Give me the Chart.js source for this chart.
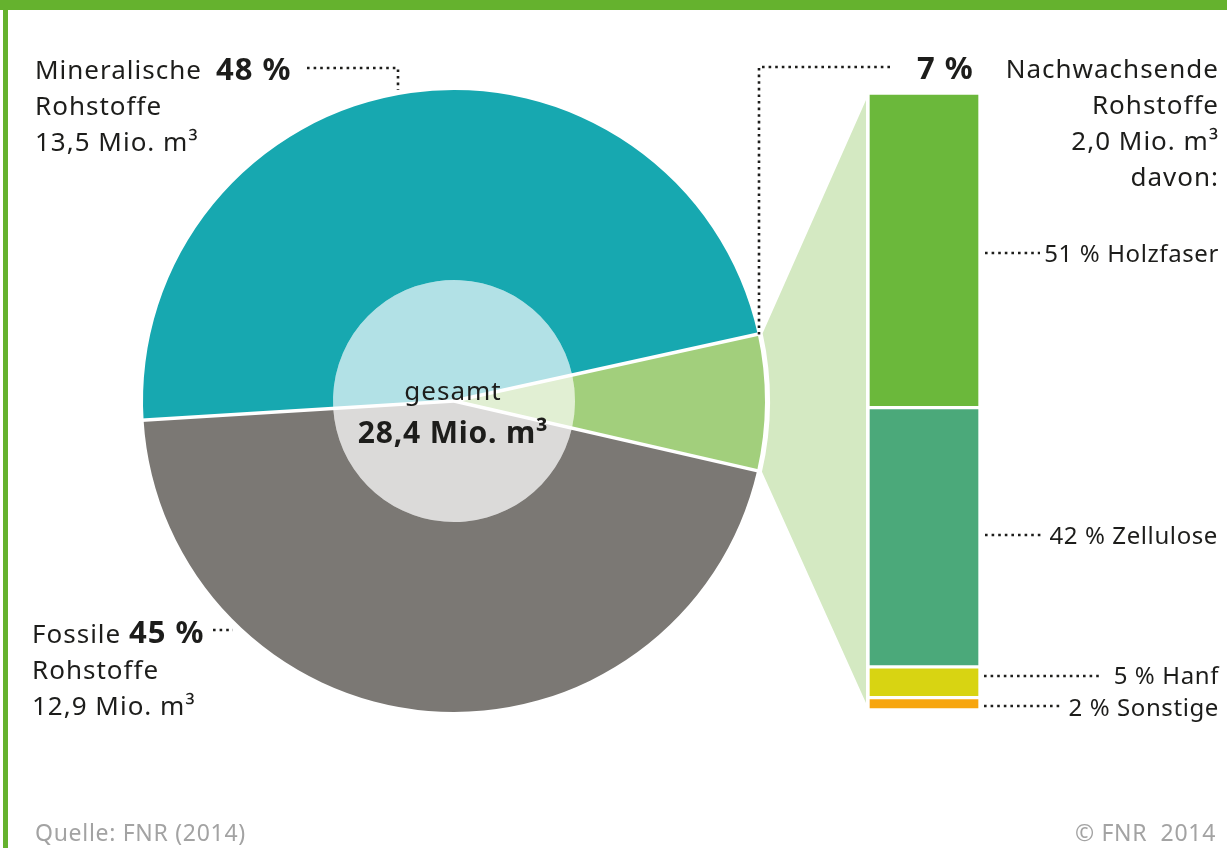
<!DOCTYPE html>
<html lang="de">
<head>
<meta charset="utf-8">
<script src="https://cdn.jsdelivr.net/npm/chart.js@4.4.1/dist/chart.umd.min.js"></script>
<style>
  body { margin: 0; width: 1227px; height: 848px; background: #fff; overflow: hidden;
         font-family: "Noto Sans", sans-serif; color: #1d1d1b; position: relative; }
  .topbar { position: absolute; left: 0; top: 0; width: 1227px; height: 10px; background: #65b22e; }
  .sidebar { position: absolute; left: 3px; top: 0; width: 5px; height: 848px; background: #65b22e; }
  canvas { position: absolute; }
  #pie { left: 0; top: 0; }
  #bar { left: 868px; top: 93px; }
  .lbl { position: absolute; font-size: 26px; letter-spacing: 1px; line-height: 36px; white-space: nowrap; }
  .lbl b { font-weight: 700; font-size: 31px; letter-spacing: 1px; }
  .r { text-align: right; }
  .small { font-size: 24px; letter-spacing: 0.6px; }
  .foot { position: absolute; top: 816px; font-size: 23px; letter-spacing: 0.7px; color: #a3a3a3; line-height: 32px; }
</style>
</head>
<body>
<div class="topbar"></div>
<div class="sidebar"></div>
<canvas id="pie" width="1227" height="848"></canvas>
<canvas id="bar" width="112" height="617"></canvas>

<div class="lbl" style="left:35px; top:51px;">Mineralische<br>Rohstoffe<br>13,5 Mio. m³</div>
<div class="lbl" style="left:216px; top:50px;"><b>48 %</b></div>

<div class="lbl" style="left:32px; top:613px;">Fossile <b>45 %</b><br>Rohstoffe<br>12,9 Mio. m³</div>

<div class="lbl" style="left:917px; top:49px;"><b>7 %</b></div>
<div class="lbl r" style="right:8px; top:50px;">Nachwachsende<br>Rohstoffe<br>2,0 Mio. m³<br>davon:</div>

<div class="lbl r small" style="right:8px; top:235px;">51 % Holzfaser</div>
<div class="lbl r small" style="right:9px; top:517px;">42 % Zellulose</div>
<div class="lbl r small" style="right:8px; top:657px;">5 % Hanf</div>
<div class="lbl r small" style="right:8px; top:689px;">2 % Sonstige</div>

<div class="lbl" style="left:0; width:906px; text-align:center; top:372px;">gesamt</div>
<div class="lbl" style="left:0; width:906px; text-align:center; top:414px;"><b style="font-size:30px; letter-spacing:0.8px;">28,4 Mio. m³</b></div>

<div class="foot" style="left:35px;">Quelle: FNR (2014)</div>
<div class="foot" style="right:11px;">© FNR&nbsp; 2014</div>

<script>
// Data
const pieLabels = ['Nachwachsende Rohstoffe', 'Fossile Rohstoffe', 'Mineralische Rohstoffe'];
const pieVolumes = [2.0, 12.9, 13.5];   // Mio. m³
const piePercents = [7, 45, 48];
const barLabels = ['Holzfaser', 'Zellulose', 'Hanf', 'Sonstige'];
const barShares = [51, 42, 5, 2];       // % of Nachwachsende Rohstoffe

// Colors
const outerColors = ['#a2cf7c', '#7b7874', '#17a8b0'];
const innerColors = ['#e1efd3', '#dbdad9', '#b2e1e6'];
const barColors = ['#6bb83b', '#4ba97a', '#d8d412', '#f7a60f'];

const BAR_LEFT = 868;
const BAR_TOP = 93;

// Stacked bar (created first so the pie can read its geometry)
const barChart = new Chart(document.querySelector('#bar'), {
    type: 'bar',
    data: {
        labels: [''],
        datasets: barLabels.map((label, i) => ({
            label: label,
            data: [barShares[i]],
            backgroundColor: barColors[i],
            borderColor: '#ffffff',
            borderWidth: 2,
            borderSkipped: false,
            barPercentage: 1,
            categoryPercentage: 1
        }))
    },
    options: {
        responsive: false,
        animation: false,
        layout: { padding: 0 },
        plugins: { legend: { display: false }, tooltip: { enabled: false } },
        scales: {
            x: { stacked: true, display: false },
            y: { stacked: true, display: false, reverse: true, min: 0, max: 100 }
        }
    }
});

function dotted(ctx, pts) {
    ctx.beginPath();
    ctx.moveTo(pts[0][0], pts[0][1]);
    for (let i = 1; i < pts.length; i++) ctx.lineTo(pts[i][0], pts[i][1]);
    ctx.stroke();
}

const pieExtras = {
    id: 'pieExtras',
    beforeDatasetsDraw(chart) {
        // light green funnel from the Nachwachsende slice to the bar
        const ctx = chart.ctx;
        const arc = chart.getDatasetMeta(0).data[0];
        const r = arc.outerRadius + 5;
        const yScale = barChart.scales.y;
        const el = barChart.getDatasetMeta(0).data[0];
        const right = BAR_LEFT + el.x - el.width / 2 - 2;
        const top = BAR_TOP + yScale.getPixelForValue(0) + 7;
        const bottom = BAR_TOP + yScale.getPixelForValue(100) - 7;
        ctx.save();
        ctx.fillStyle = '#d4e9c2';
        ctx.beginPath();
        ctx.arc(arc.x, arc.y, r, arc.startAngle, arc.endAngle);
        ctx.lineTo(right, bottom);
        ctx.lineTo(right, top);
        ctx.closePath();
        ctx.fill();
        ctx.restore();
    },
    afterDatasetsDraw(chart) {
        const ctx = chart.ctx;
        ctx.save();
        // white separators between slices
        ctx.strokeStyle = '#ffffff';
        ctx.lineWidth = 3.5;
        chart.getDatasetMeta(0).data.forEach(arc => {
            const a = arc.startAngle;
            ctx.beginPath();
            ctx.moveTo(arc.x, arc.y);
            ctx.lineTo(arc.x + (arc.outerRadius + 2) * Math.cos(a), arc.y + (arc.outerRadius + 2) * Math.sin(a));
            ctx.stroke();
        });
        // dotted leaders
        ctx.strokeStyle = '#1d1d1b';
        ctx.lineWidth = 2.6;
        ctx.setLineDash([2.6, 4]);
        dotted(ctx, [[307, 68], [398, 68], [398, 90]]);
        dotted(ctx, [[890, 67], [759, 67], [759, 336]]);
        dotted(ctx, [[213, 630], [233, 630]]);
        dotted(ctx, [[985, 253], [1040, 253]]);
        dotted(ctx, [[985, 535], [1043, 535]]);
        dotted(ctx, [[984, 676], [1100, 676]]);
        dotted(ctx, [[984, 706], [1062, 706]]);
        ctx.restore();
    }
};

// Pie with lighter inner circle
new Chart(document.querySelector('#pie'), {
    type: 'pie',
    data: {
        labels: pieLabels,
        datasets: [
            { data: pieVolumes, backgroundColor: outerColors, borderWidth: 0, weight: 190, hoverOffset: 0 },
            { data: pieVolumes, backgroundColor: innerColors, borderWidth: 0, weight: 121, hoverOffset: 0 }
        ]
    },
    options: {
        responsive: false,
        animation: false,
        rotation: 77.6,
        layout: { padding: { left: 143, right: 462, top: 90, bottom: 136 } },
        plugins: { legend: { display: false }, tooltip: { enabled: false } }
    },
    plugins: [pieExtras]
});
</script>
</body>
</html>
